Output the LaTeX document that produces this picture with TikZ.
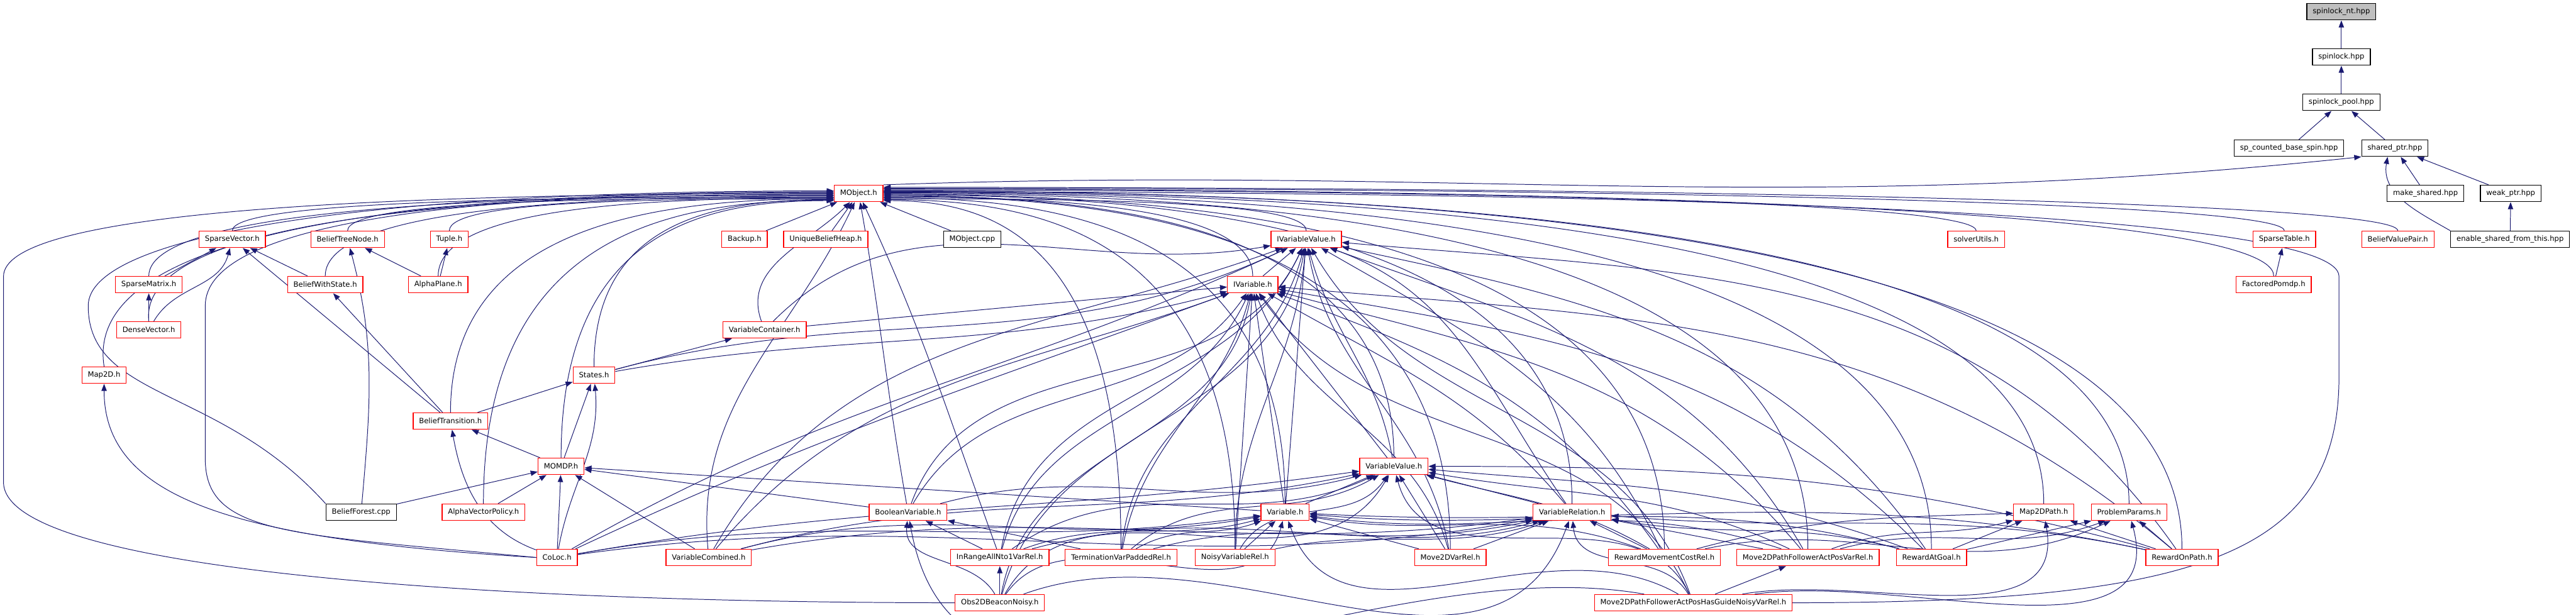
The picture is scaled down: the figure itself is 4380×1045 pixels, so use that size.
\documentclass[tikz,border=0pt]{standalone}
\usepackage{fontspec}
\setmainfont{DejaVu Sans}
\usetikzlibrary{arrows.meta}
\definecolor{edgeblue}{HTML}{191970}
\definecolor{rootgray}{HTML}{BFBFBF}
\definecolor{filered}{HTML}{FF0000}
\pgfdeclarelayer{edges}
\pgfsetlayers{edges,main}

\begin{document}
\begin{tikzpicture}[x=0.01cm, y=-0.01cm,
  file/.style={draw=filered, fill=white, line width=0.4pt, minimum height=0.28cm,
    inner xsep=0.1cm, inner ysep=0pt, font=\fontsize{3.53}{4}\selectfont},
  extfile/.style={file, draw=black},
  rootfile/.style={file, draw=black, fill=rootgray},
  inc/.style={edgeblue, line width=0.3pt, -{Triangle[length=1.2mm, width=0.9mm]}}]

\useasboundingbox (0,0) rectangle (4380,1045);

%% Boost headers
\node[rootfile] (nt) at (3981,20) {spinlock\_nt.hpp};
\node[extfile] (spl) at (3981,97) {spinlock.hpp};
\node[extfile] (pool) at (3981,174) {spinlock\_pool.hpp};
\node[extfile] (spcnt) at (3892,252) {sp\_counted\_base\_spin.hpp};
\node[extfile] (shptr) at (4072,252) {shared\_ptr.hpp};
\node[extfile] (mkshr) at (4124,329) {make\_shared.hpp};
\node[extfile] (wkptr) at (4269,329) {weak\_ptr.hpp};
\node[extfile] (esft) at (4268,407) {enable\_shared\_from\_this.hpp};

%% Row of MObject.h
\node[file] (mobj) at (1460,329) {MObject.h};
\node[file] (backup) at (1266,407) {Backup.h};
\node[file] (ubh) at (1404,407) {UniqueBeliefHeap.h};
\node[extfile] (mcpp) at (1653,407) {MObject.cpp};
\node[file] (spvec) at (395,407) {SparseVector.h};
\node[file] (btn) at (591,407) {BeliefTreeNode.h};
\node[file] (tuple) at (764,407) {Tuple.h};
\node[file] (ivv) at (2221,407) {IVariableValue.h};
\node[file] (solv) at (3360,407) {solverUtils.h};
\node[file] (sptab) at (3884,407) {SparseTable.h};
\node[file] (bvp) at (4077,407) {BeliefValuePair.h};

%% Middle rows
\node[file] (spmat) at (253,484) {SparseMatrix.h};
\node[file] (bws) at (553,484) {BeliefWithState.h};
\node[file] (aplane) at (745,484) {AlphaPlane.h};
\node[file] (ivar) at (2130,484) {IVariable.h};
\node[file] (fpomdp) at (3866,484) {FactoredPomdp.h};
\node[file] (dvec) at (253,561) {DenseVector.h};
\node[file] (vcont) at (1300,561) {VariableContainer.h};
\node[file] (map2d) at (177,638) {Map2D.h};
\node[file] (states) at (1010,638) {States.h};
\node[file] (btrans) at (766,716) {BeliefTransition.h};
\node[file] (momdp) at (954,793) {MOMDP.h};
\node[file] (vval) at (2370,793) {VariableValue.h};

%% Lower rows
\node[extfile] (bforest) at (614,871) {BeliefForest.cpp};
\node[file] (avpol) at (822,871) {AlphaVectorPolicy.h};
\node[file] (boolvar) at (1544,871) {BooleanVariable.h};
\node[file] (var) at (2185,871) {Variable.h};
\node[file] (vrel) at (2673,871) {VariableRelation.h};
\node[file] (map2dp) at (3475,871) {Map2DPath.h};
\node[file] (pparams) at (3620,871) {ProblemParams.h};
\node[file] (coloc) at (947,948) {CoLoc.h};
\node[file] (vcomb) at (1205,948) {VariableCombined.h};
\node[file] (inrange) at (1700,948) {InRangeAllNto1VarRel.h};
\node[file] (term) at (1906,948) {TerminationVarPaddedRel.h};
\node[file] (noisy) at (2100,948) {NoisyVariableRel.h};
\node[file] (mv2d) at (2466,948) {Move2DVarRel.h};
\node[file] (rmc) at (2830,948) {RewardMovementCostRel.h};
\node[file] (mpfapv) at (3074,948) {Move2DPathFollowerActPosVarRel.h};
\node[file] (ragoal) at (3284,948) {RewardAtGoal.h};
\node[file] (ronpath) at (3710,948) {RewardOnPath.h};
\node[file] (obs) at (1700,1025) {Obs2DBeaconNoisy.h};
\node[file] (guide) at (2879,1025) {Move2DPathFollowerActPosHasGuideNoisyVarRel.h};

\begin{pgfonlayer}{edges}
% spinlock headers
\draw[inc] (spl) -- (nt);
\draw[inc] (pool) -- (spl);
\draw[inc] (spcnt) -- (pool);
\draw[inc] (shptr) -- (pool);
\draw[inc] (mkshr) -- (shptr);
\draw[inc] (wkptr) -- (shptr);
\draw[inc] (esft) -- (wkptr);
\draw[inc] (esft.north west) to[out=150, in=-100] (shptr.-130);
\draw[inc] (mobj.north east) to[out=2, in=186] (shptr.south west);

% MObject.h, from the left
\draw[inc] (spvec.north) .. controls +(0,-50) and +(-510,0) .. (mobj.188);
\draw[inc] (btn.north) .. controls +(0,-50) and +(-410,0) .. (mobj.190);
\draw[inc] (tuple.north) .. controls +(0,-50) and +(-330,0) .. (mobj.192);
\draw[inc] (spmat.north) .. controls +(0,-115) and +(-580,0) .. (mobj.184);
\draw[inc] (dvec.north) .. controls +(-20,-180) and +(-580,0) .. (mobj.182);
\draw[inc] (bws.north) .. controls +(0,-115) and +(-430,0) .. (mobj.186);
\draw[inc] (aplane.north) .. controls +(0,-115) and +(-335,0) .. (mobj.190);
\draw[inc] (map2d.north) .. controls +(-40,-250) and +(-620,0) .. (mobj.176);
\draw[inc] (states.north) .. controls +(0,-245) and +(-205,0) .. (mobj.194);
\draw[inc] (btrans.north) .. controls +(0,-310) and +(-325,0) .. (mobj.192);
\draw[inc] (avpol.north) .. controls +(0,-445) and +(-300,0) .. (mobj.195);
\draw[inc] (momdp.north) .. controls +(0,-380) and +(-230,0) .. (mobj.196);
\draw[inc] (bforest.north west) .. controls +(-180,-200) and +(0,160) .. (150,520)
  .. controls +(0,-120) and +(-800,0) .. (mobj.174);
\draw[inc] (coloc.west) .. controls +(-420,-40) and +(0,130) .. (349,780) -- (349,520)
  .. controls +(0,-130) and +(-700,0) .. (mobj.178);
\draw[inc] (obs.west) .. controls +(-700,0) and +(0,160) .. (6,820) -- (6,470)
  .. controls +(0,-100) and +(-900,0) .. (mobj.180);

% MObject.h, from below
\draw[inc] (backup) -- (mobj);
\draw[inc] (ubh) -- (mobj);
\draw[inc] (mcpp) -- (mobj);
\draw[inc] (vcont) to[out=110, in=-135] (mobj);
\draw[inc] (vcomb) to[out=95, in=-115] (mobj);
\draw[inc] (boolvar) to[out=100, in=-80] (mobj);
\draw[inc] (inrange) to[out=110, in=-65] (mobj);

% MObject.h, from the right
\draw[inc] (ivv.north) .. controls +(0,-50) and +(360,0) .. (mobj.-12);
\draw[inc] (ivar.north) .. controls +(0,-115) and +(315,0) .. (mobj.-8);
\draw[inc] (vval.north) .. controls +(0,-380) and +(430,0) .. (mobj.-5);
\draw[inc] (var.north) .. controls +(0,-445) and +(340,0) .. (mobj.-10);
\draw[inc] (vrel.north) .. controls +(0,-445) and +(585,0) .. (mobj.-3);
\draw[inc] (term.north) .. controls +(0,-510) and +(200,0) .. (mobj.-16);
\draw[inc] (noisy.north) .. controls +(0,-510) and +(300,0) .. (mobj.-14);
\draw[inc] (mv2d.north) .. controls +(0,-510) and +(480,0) .. (mobj.-6);
\draw[inc] (rmc.north) .. controls +(0,-510) and +(660,0) .. (mobj.-2);
\draw[inc] (mpfapv.north) .. controls +(0,-510) and +(785,0) .. (mobj.0);
\draw[inc] (ragoal.north) .. controls +(0,-510) and +(890,0) .. (mobj.2);
\draw[inc] (map2dp.north) .. controls +(0,-445) and +(985,0) .. (mobj.3);
\draw[inc] (pparams.north) .. controls +(0,-445) and +(1060,0) .. (mobj.5);
\draw[inc] (ronpath.north) .. controls +(0,-510) and +(1100,0) .. (mobj.6);
\draw[inc] (solv.north) .. controls +(0,-50) and +(930,0) .. (mobj.8);
\draw[inc] (fpomdp.north) .. controls +(0,-115) and +(1180,0) .. (mobj.10);
\draw[inc] (sptab.north) .. controls +(0,-50) and +(1190,0) .. (mobj.12);
\draw[inc] (bvp.north) .. controls +(0,-50) and +(1290,0) .. (mobj.14);
\draw[inc] (guide.east) .. controls +(700,0) and +(0,300) .. (3977,640) -- (3977,470)
  .. controls +(0,-100) and +(1500,0) .. (mobj.4);

% sparse vectors and beliefs
\draw[inc] (spmat) -- (spvec);
\draw[inc] (dvec) -- (spmat);
\draw[inc] (dvec) to[out=60, in=-105] (spvec);
\draw[inc] (bws) -- (spvec);
\draw[inc] (btrans) -- (spvec);
\draw[inc] (aplane) -- (btn);
\draw[inc] (aplane) -- (tuple);
\draw[inc] (bforest) to[out=85, in=-75] (btn);
\draw[inc] (btrans) -- (bws);
\draw[inc] (btrans) -- (states);
\draw[inc] (momdp) -- (btrans);
\draw[inc] (coloc) to[out=160, in=-80] (btrans);
\draw[inc] (momdp) -- (states);
\draw[inc] (coloc) to[out=80, in=-85] (states);
\draw[inc] (coloc.west) .. controls +(-500,-30) and +(0,200) .. (map2d.south);
\draw[inc] (bforest) -- (momdp);
\draw[inc] (avpol) -- (momdp);
\draw[inc] (coloc) -- (momdp);
\draw[inc] (vcomb) -- (momdp);
\draw[inc] (boolvar) -- (momdp);
\draw[inc] (var) -- (momdp);
\draw[inc] (fpomdp) -- (sptab);

% States.h and VariableContainer.h
\draw[inc] (states) -- (vcont);
\draw[inc] (states) to[out=10, in=195] (ivar);
\draw[inc] (states) to[out=15, in=205] (ivv);
\draw[inc] (vcont) -- (ivar);
\draw[inc] (vcont) to[out=45, in=190] (ivv);

% IVariableValue.h
\draw[inc] (ivar) -- (ivv);
\draw[inc] (var) -- (ivv);
\draw[inc] (vval) to[out=100, in=-75] (ivv);
\draw[inc] (vrel) to[out=125, in=-20] (ivv);
\draw[inc] (boolvar) to[out=70, in=-115] (ivv);
\draw[inc] (vcomb) to[out=60, in=200] (ivv);
\draw[inc] (inrange) to[out=80, in=-115] (ivv);
\draw[inc] (term) to[out=85, in=-105] (ivv);
\draw[inc] (obs) to[out=75, in=-100] (ivv);
\draw[inc] (noisy) to[out=90, in=-95] (ivv);
\draw[inc] (mv2d) to[out=100, in=-80] (ivv);
\draw[inc] (rmc) to[out=115, in=-30] (ivv);
\draw[inc] (mpfapv) to[out=120, in=-20] (ivv);
\draw[inc] (ragoal) to[out=125, in=-12] (ivv);
\draw[inc] (ronpath) to[out=125, in=-5] (ivv);
\draw[inc] (guide) to[out=110, in=-60] (ivv);
\draw[inc] (coloc) to[out=30, in=205] (ivv);

% IVariable.h
\draw[inc] (var) -- (ivar);
\draw[inc] (vval) -- (ivar);
\draw[inc] (boolvar) to[out=60, in=-125] (ivar);
\draw[inc] (vcomb) to[out=50, in=200] (ivar);
\draw[inc] (inrange) to[out=75, in=-115] (ivar);
\draw[inc] (term) to[out=80, in=-105] (ivar);
\draw[inc] (obs) to[out=80, in=-100] (ivar);
\draw[inc] (noisy) -- (ivar);
\draw[inc] (mv2d) to[out=105, in=-70] (ivar);
\draw[inc] (vrel) to[out=130, in=-30] (ivar);
\draw[inc] (rmc) to[out=125, in=-20] (ivar);
\draw[inc] (mpfapv) to[out=130, in=-15] (ivar);
\draw[inc] (ragoal) to[out=135, in=-10] (ivar);
\draw[inc] (ronpath) to[out=140, in=-5] (ivar);
\draw[inc] (guide) to[out=115, in=-55] (ivar);
\draw[inc] (coloc) to[out=25, in=200] (ivar);

% VariableValue.h
\draw[inc] (var) -- (vval);
\draw[inc] (vrel) -- (vval);
\draw[inc] (boolvar) to[out=15, in=195] (vval);
\draw[inc] (vcomb) to[out=15, in=192] (vval);
\draw[inc] (coloc) to[out=10, in=188] (vval);
\draw[inc] (inrange) to[out=35, in=205] (vval);
\draw[inc] (term) to[out=40, in=210] (vval);
\draw[inc] (obs) to[out=60, in=-120] (vval);
\draw[inc] (noisy) to[out=60, in=-125] (vval);
\draw[inc] (mv2d) -- (vval);
\draw[inc] (rmc) to[out=150, in=-15] (vval);
\draw[inc] (mpfapv) to[out=155, in=-10] (vval);
\draw[inc] (ragoal) to[out=160, in=-5] (vval);
\draw[inc] (ronpath) to[out=165, in=0] (vval);
\draw[inc] (guide) to[out=115, in=-75] (vval);

% Variable.h
\draw[inc] (vcomb) to[out=15, in=190] (var);
\draw[inc] (coloc) to[out=10, in=188] (var);
\draw[inc] (inrange) to[out=20, in=195] (var);
\draw[inc] (term) to[out=30, in=200] (var);
\draw[inc] (obs) to[out=55, in=-105] (var);
\draw[inc] (noisy) -- (var);
\draw[inc] (mv2d) -- (var);
\draw[inc] (rmc) to[out=160, in=-10] (var);
\draw[inc] (mpfapv) to[out=162, in=-8] (var);
\draw[inc] (ragoal) to[out=165, in=-5] (var);
\draw[inc] (ronpath) to[out=168, in=-3] (var);
\draw[inc] (guide) to[out=150, in=-70] (var);

% VariableRelation.h
\draw[inc] (inrange) to[out=15, in=192] (vrel);
\draw[inc] (term) to[out=15, in=195] (vrel);
\draw[inc] (noisy) to[out=12, in=198] (vrel);
\draw[inc] (mv2d) -- (vrel);
\draw[inc] (rmc) -- (vrel);
\draw[inc] (mpfapv) -- (vrel);
\draw[inc] (ragoal) to[out=165, in=-10] (vrel);
\draw[inc] (ronpath) to[out=168, in=-5] (vrel);
\draw[inc] (guide) to[out=120, in=-85] (vrel);
\draw[inc] (obs) to[out=20, in=-110] (vrel);
\draw[inc] (vcomb) to[out=10, in=188] (vrel);
\draw[inc] (coloc) to[out=8, in=190] (vrel);

% BooleanVariable.h and the path headers
\draw[inc] (inrange) -- (boolvar);
\draw[inc] (term) -- (boolvar);
\draw[inc] (obs) to[out=120, in=-95] (boolvar);
\draw[inc] (guide) to[out=170, in=-80] (boolvar);
\draw[inc] (obs) -- (inrange);
\draw[inc] (guide) -- (mpfapv);
\draw[inc] (mpfapv) to[out=20, in=195] (map2dp);
\draw[inc] (ragoal) -- (map2dp);
\draw[inc] (ronpath) -- (map2dp);
\draw[inc] (guide) to[out=10, in=-80] (map2dp);
\draw[inc] (rmc) to[out=15, in=182] (map2dp);
\draw[inc] (ragoal) -- (pparams);
\draw[inc] (ronpath) -- (pparams);
\draw[inc] (guide) to[out=8, in=-75] (pparams);
\draw[inc] (mpfapv) to[out=15, in=200] (pparams);
\draw[inc] (rmc) to[out=12, in=205] (pparams);
\end{pgfonlayer}

\end{tikzpicture}
\end{document}
